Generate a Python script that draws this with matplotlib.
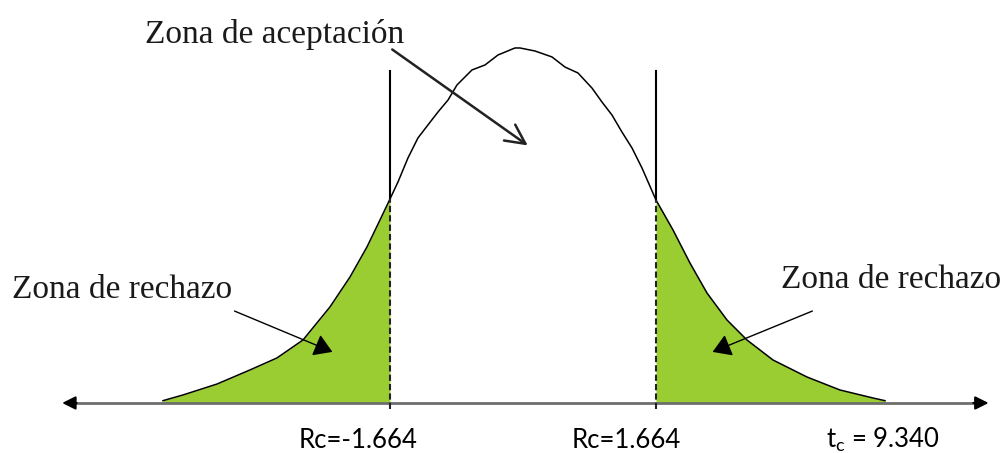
import numpy as np
import matplotlib
matplotlib.use('Agg')
import matplotlib.pyplot as plt

# curve points (t units, density)
curve_t = [-4.504, -4.254, -3.828, -3.416, -3.078, -2.752, -2.415, -2.164, -1.952,
           -1.789, -1.664, -1.564, -1.439, -1.314, -1.189, -1.063, -0.938, -0.826,
           -0.638, -0.475, -0.313, -0.100, -0.038, 0.150, 0.363, 0.525, 0.688,
           0.863, 0.988, 1.113, 1.238, 1.364, 1.489, 1.664, 1.877, 2.089, 2.302,
           2.552, 2.802, 3.128, 3.553, 3.966, 4.379, 4.529]
curve_d = [0.0026, 0.009, 0.0213, 0.0371, 0.0506, 0.0708, 0.1079, 0.1416, 0.1753,
           0.2056, 0.2292, 0.2483, 0.2753, 0.2978, 0.3124, 0.3270, 0.3404, 0.3573,
           0.3742, 0.3798, 0.3910, 0.3989, 0.3989, 0.3955, 0.3888, 0.3775, 0.3708,
           0.3539, 0.3382, 0.3236, 0.3045, 0.2865, 0.2640, 0.2281, 0.1944, 0.1573,
           0.1236, 0.0933, 0.0708, 0.0483, 0.0292, 0.0146, 0.0056, 0.0026]

rc_low = -1.664
rc_high = 1.664
t_calc = 9.340

labels_bottom = ['Rc=-1.664', 'Rc=1.664', r't$_\mathrm{c}$ = 9.340']

plt.rcParams['mathtext.fontset'] = 'custom'
plt.rcParams['mathtext.rm'] = 'Lato'
plt.rcParams['mathtext.it'] = 'Lato'

fig = plt.figure(figsize=(10.06, 4.53), dpi=100)
ax = fig.add_axes([0, 0, 1, 1])
ax.set_xlim(-6.543, 6.043)
ax.set_ylim(-0.0562, 0.4528)
ax.axis('off')

t = np.array(curve_t)
d = np.array(curve_d)
green = '#9ACD32'

left = t <= rc_low
right = t >= rc_high
ax.fill_between(t[left], 0, d[left], color=green, lw=0)
ax.fill_between(t[right], 0, d[right], color=green, lw=0)
ax.plot(t, d, color='black', lw=1.1)

# horizontal axis with arrows
ax.plot([-5.65, 5.7], [0, 0], color='#6e6e6e', lw=2)
ax.annotate('', xy=(-5.80, 0), xytext=(-5.55, 0),
            arrowprops=dict(arrowstyle='-|>', color='black', lw=1.5, mutation_scale=20))
ax.annotate('', xy=(5.86, 0), xytext=(5.6, 0),
            arrowprops=dict(arrowstyle='-|>', color='black', lw=1.5, mutation_scale=20))

# critical value lines
for rc, top_d in [(rc_low, 0.2292), (rc_high, 0.2281)]:
    ax.plot([rc, rc], [top_d, 0.373], color='black', lw=1.5)
    ax.plot([rc, rc], [-0.007, top_d], color='#222222', lw=1.5, ls=(0, (3, 1.5)))

# text
serif = 'Liberation Serif'
ax.text(-3.103, 0.4045, 'Zona de aceptación', family=serif, fontsize=24,
        ha='center', va='baseline', color='#1a1a1a')
ax.text(-5.011, 0.118, 'Zona de rechazo', family=serif, fontsize=24,
        ha='center', va='baseline', color='#1a1a1a')
ax.text(4.604, 0.129, 'Zona de rechazo', family=serif, fontsize=24,
        ha='center', va='baseline', color='#1a1a1a')

ax.annotate('', xy=(0.088, 0.2876), xytext=(-1.664, 0.399),
            arrowprops=dict(arrowstyle='->,head_length=0.7,head_width=0.35',
                            color='#222222', lw=1.8, mutation_scale=20))
ax.annotate('', xy=(-2.352, 0.0562), xytext=(-3.641, 0.1045),
            arrowprops=dict(arrowstyle='-|>,head_length=0.8,head_width=0.5',
                            color='black', lw=1.0, mutation_scale=14))
ax.annotate('', xy=(2.34, 0.0562), xytext=(3.653, 0.1045),
            arrowprops=dict(arrowstyle='-|>,head_length=0.8,head_width=0.5',
                            color='black', lw=1.0, mutation_scale=14))

label_x = [-2.069, 1.289, 4.498]
for lx, lab in zip(label_x, labels_bottom):
    ax.text(lx, -0.0505, lab, family='Lato', fontsize=18.5, ha='center', va='baseline')

plt.savefig('out.png', dpi=100)
